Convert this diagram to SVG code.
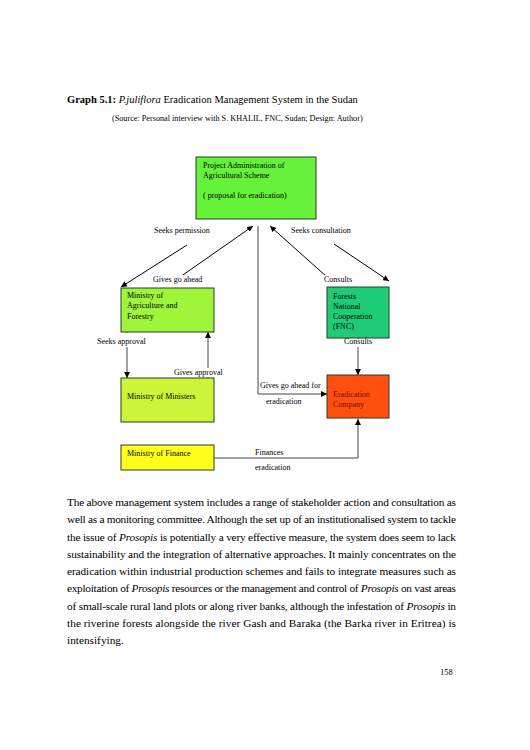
<svg xmlns="http://www.w3.org/2000/svg" width="530" height="750" viewBox="0 0 530 750">
<defs>
<marker id="ah" viewBox="0 0 10 10" refX="10" refY="5" markerWidth="6" markerHeight="6" orient="auto" markerUnits="userSpaceOnUse">
<path d="M0,0 L10,5 L0,10 z" fill="#000"/>
</marker>
</defs>
<style>
text{font-family:"Liberation Serif","Times New Roman",serif;fill:#000}
.l{font-size:8px}
.p{font-size:11.3px}
.box{stroke:#2a3a2a;stroke-width:1}
.d{stroke:#000;stroke-width:1;fill:none;marker-end:url(#ah)}
.v{stroke:#444;stroke-width:1;fill:none;marker-end:url(#ah)}
.bg{fill:#fff}
</style>
<rect width="530" height="750" fill="#fff"/>
<text x="67" y="103" style="font-size:10.5px"><tspan font-weight="bold">Graph 5.1:</tspan> <tspan font-style="italic">P.juliflora</tspan> Eradication Management System in the Sudan</text>
<text x="112" y="121" style="font-size:8.2px">(Source: Personal interview with S. KHALIL, FNC, Sudan; Design: Author)</text>

<g id="project-admin">
<rect class="box" x="196" y="157" width="120" height="62" fill="#66F23A"/>
<text class="l" x="203" y="168">Project Administration of</text>
<text class="l" x="203" y="178">Agricultural Scheme</text>
<text class="l" x="203" y="198">( proposal for eradication)</text>
</g>
<g id="ministry-agriculture">
<rect class="box" x="121" y="288" width="93" height="44" fill="#9EF53A"/>
<text class="l" x="127" y="298">Ministry of</text>
<text class="l" x="127" y="308">Agriculture and</text>
<text class="l" x="127" y="319">Forestry</text>
</g>
<g id="fnc">
<rect class="box" x="327" y="287" width="62" height="51" fill="#1FCC76"/>
<text class="l" x="333" y="299">Forests</text>
<text class="l" x="333" y="309">National</text>
<text class="l" x="333" y="319">Cooperation</text>
<text class="l" x="333" y="329">(FNC)</text>
</g>
<g id="ministers">
<rect class="box" x="121" y="378" width="93" height="44" fill="#CCF53A"/>
<text class="l" x="127" y="399">Ministry of Ministers</text>
</g>
<g id="eradication-company">
<rect class="box" x="327" y="375" width="62" height="43" fill="#FF5010"/>
<text class="l" x="333" y="397" style="fill:#7a0a00">Eradication</text>
<text class="l" x="333" y="407" style="fill:#7a0a00">Company</text>
</g>
<g id="ministry-finance">
<rect class="box" x="121" y="445" width="93" height="25" fill="#FFFF1A"/>
<text class="l" x="127" y="456">Ministry of Finance</text>
</g>

<g id="connectors">
<line class="d" x1="187" y1="245" x2="121" y2="287"/>
<line class="d" x1="180" y1="277" x2="253" y2="226"/>
<line class="d" x1="327" y1="277" x2="270" y2="226"/>
<line class="d" x1="334" y1="244" x2="389" y2="281"/>
<polyline class="v" points="258,226 258,394 327,394"/>
<line class="v" x1="127" y1="332" x2="127" y2="378"/>
<line class="v" x1="208" y1="378" x2="208" y2="332"/>
<line class="v" x1="358" y1="338" x2="358" y2="375"/>
<polyline class="v" points="214,458 358,458 358,419"/>
</g>
<g id="labels">
<rect class="bg" x="151" y="275" width="58" height="9"/>
<rect class="bg" x="322" y="275" width="33" height="9"/>
<rect class="bg" x="95" y="333" width="58" height="14"/>
<rect class="bg" x="172" y="368" width="56" height="9"/>
<rect class="bg" x="342" y="339" width="33" height="8"/>
<text class="l" x="154" y="233">Seeks permission</text>
<text class="l" x="291" y="233">Seeks consultation</text>
<text class="l" x="153" y="282">Gives go ahead</text>
<text class="l" x="324" y="282">Consults</text>
<text class="l" x="97" y="344">Seeks approval</text>
<text class="l" x="174" y="375">Gives approval</text>
<text class="l" x="344" y="344">Consults</text>
<text class="l" x="260" y="388">Gives go ahead for</text>
<text class="l" x="266" y="404">eradication</text>
<text class="l" x="255" y="455">Finances</text>
<text class="l" x="255" y="470">eradication</text>
</g>

<g id="paragraph">
<text class="p" x="67" y="506" textLength="389" lengthAdjust="spacing">The above management system includes a range of stakeholder action and consultation as</text>
<text class="p" x="67" y="523.3" textLength="389" lengthAdjust="spacing">well as a monitoring committee. Although the set up of an institutionalised system to tackle</text>
<text class="p" x="67" y="540.5" textLength="389" lengthAdjust="spacing">the issue of <tspan font-style="italic">Prosopis</tspan> is potentially a very effective measure, the system does seem to lack</text>
<text class="p" x="67" y="557.8" textLength="389" lengthAdjust="spacing">sustainability and the integration of alternative approaches. It mainly concentrates on the</text>
<text class="p" x="67" y="575" textLength="389" lengthAdjust="spacing">eradication within industrial production schemes and fails to integrate measures such as</text>
<text class="p" x="67" y="592.3" textLength="389" lengthAdjust="spacing">exploitation of <tspan font-style="italic">Prosopis</tspan> resources or the management and control of <tspan font-style="italic">Prosopis</tspan> on vast areas</text>
<text class="p" x="67" y="609.5" textLength="389" lengthAdjust="spacing">of small-scale rural land plots or along river banks, although the infestation of <tspan font-style="italic">Prosopis</tspan> in</text>
<text class="p" x="67" y="626.8" textLength="389" lengthAdjust="spacing">the riverine forests alongside the river Gash and Baraka (the Barka river in Eritrea) is</text>
<text class="p" x="67" y="644">intensifying.</text>
</g>
<text x="440" y="675" style="font-size:8.5px">158</text>
</svg>
